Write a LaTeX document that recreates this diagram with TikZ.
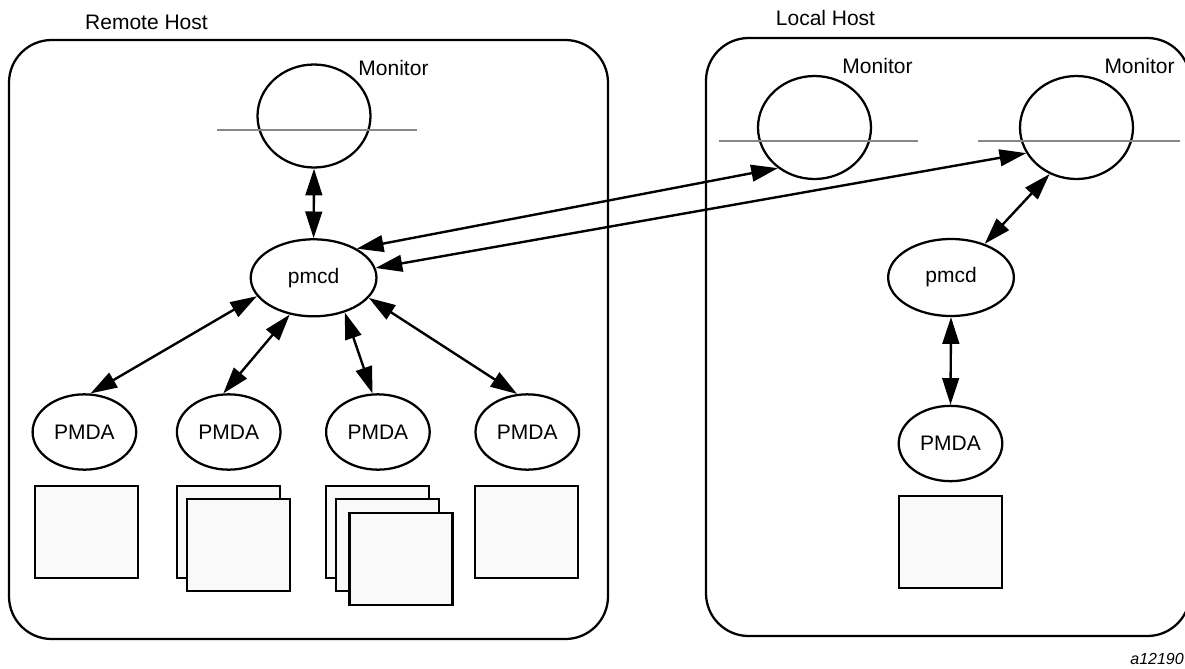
\documentclass[tikz,border=0pt]{standalone}
\usepackage{fontspec}
\setmainfont{Liberation Sans}
\usetikzlibrary{shapes.geometric,arrows.meta}
\definecolor{sepgray}{RGB}{135,135,135}
\definecolor{sqfill}{RGB}{249,249,249}
\begin{document}
\begin{tikzpicture}[x=0.75pt,y=-0.75pt,
  every node/.style={font=\fontsize{15.75}{18}\selectfont},
  hostbox/.style={draw, line width=1.7pt, rounded corners=32pt},
  proc/.style={draw, ellipse, line width=1.7pt, inner sep=0pt},
  pmcdnode/.style={proc, minimum width=94.3pt, minimum height=57.75pt},
  pmdanode/.style={proc, minimum width=77.7pt, minimum height=56.5pt},
  monnode/.style={proc, minimum width=84.75pt, minimum height=77.25pt},
  sepline/.style={draw=sepgray, line width=1.9pt},
  store/.style={draw, fill=sqfill, line width=1.7pt, minimum width=77.25pt, minimum height=69pt, inner sep=0pt},
  txt/.style={inner sep=0pt},
  link/.style={{Triangle[length=20pt,width=12.5pt]}-{Triangle[length=20pt,width=12.5pt]}, line width=1.8pt}
]
\useasboundingbox (0,0) rectangle (1185,668);

% host boxes
\draw[hostbox] (9,40) rectangle (608,639);
\draw[hostbox] (706,38) rectangle (1190,636);
\node[txt] (remoteLbl) at (146.5,22) {Remote Host};
\node[txt] (localLbl) at (825.5,18) {Local Host};

% remote host monitor
\node[monnode] (monL) at (314,116) {};
\draw[sepline] (217,130) -- (417,130);
\node[txt] (monLlbl) at (393.5,68) {Monitor};

% local host monitors
\node[monnode] (monR1) at (814.5,127.5) {};
\draw[sepline] (719,141) -- (918,141);
\node[txt] (monR1lbl) at (877.5,66) {Monitor};
\node[monnode] (monR2) at (1076.5,127.5) {};
\draw[sepline] (978,141) -- (1180,141);
\node[txt] (monR2lbl) at (1139.5,66) {Monitor};

% pmcd nodes
\node[pmcdnode] (pmcdL) at (313.6,277.8) {pmcd};
\node[pmcdnode] (pmcdR) at (951,277.5) {pmcd};

% PMDA nodes
\node[pmdanode] (p1) at (84.4,432) {PMDA};
\node[pmdanode] (p2) at (228.7,432) {PMDA};
\node[pmdanode] (p3) at (377.9,432) {PMDA};
\node[pmdanode] (p4) at (527.3,432) {PMDA};
\node[pmdanode] (pR) at (950.5,443.5) {PMDA};

% stores
\node[store] (s1) at (86.5,532) {};
\node[store] (s2a) at (228.5,532) {};
\node[store] (s2b) at (238.5,545) {};
\node[store] (s3a) at (377.5,532) {};
\node[store] (s3b) at (387.5,545) {};
\node[store] (s3c) at (401,559) {};
\node[store] (s4) at (526.5,532) {};
\node[store] (sR) at (950.5,542) {};

% connectors
\draw[link] (monL.south) -- (pmcdL.north);
\draw[link] (pmcdL.34) -- (monR1.228);
\draw[link] (pmcdL.9) -- (monR2.207);
\draw[link] (pmcdL.198) -- (p1.81);
\draw[link] (pmcdL.237) -- (p2.98);
\draw[link] (pmcdL.312) -- (p3.98);
\draw[link] (pmcdL.340) -- (p4.105);
\draw[link] (monR2.240) -- (pmcdR.45);
\draw[link] (pmcdR.south) -- (pR.north);

\node[txt, anchor=east, font=\fontsize{12}{14}\selectfont\itshape] (figid) at (1184,659) {a12190};
\end{tikzpicture}
\end{document}
